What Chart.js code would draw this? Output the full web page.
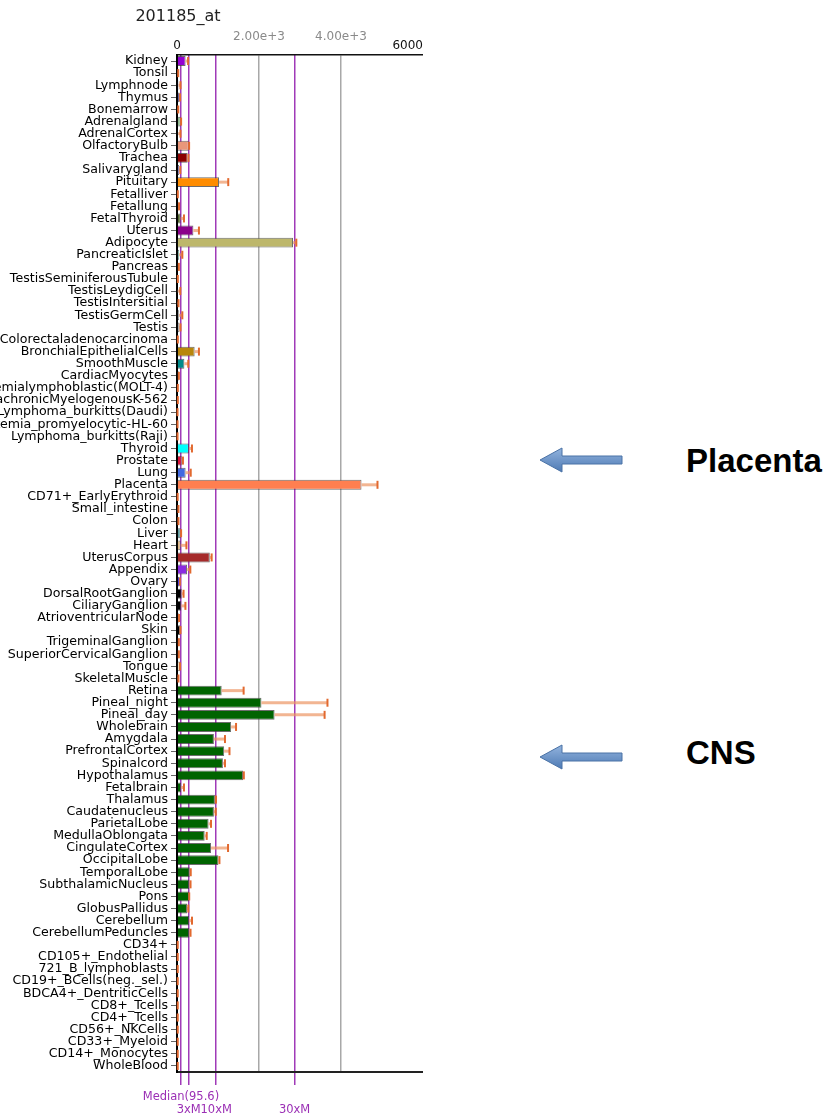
<!DOCTYPE html>
<html>
<head>
<meta charset="utf-8">
<script src="https://cdn.jsdelivr.net/npm/chart.js@4.4.1/dist/chart.umd.min.js"></script>
<style>
  body { margin: 0; background: #fff; width: 832px; height: 1113px; position: relative; overflow: hidden; font-family: "DejaVu Sans", sans-serif; }
  #wrap { position: absolute; left: 0; top: 0; width: 423px; height: 1113px; }
  #title { position: absolute; left: 0; width: 356px; top: 6px; text-align: center; font-size: 16px; color: #222; }
  .note { position: absolute; left: 686px; font-family: "Liberation Sans", Arial, sans-serif; font-weight: bold; font-size: 33px; line-height: 1; color: #000; }
  .arrow { position: absolute; left: 538px; width: 86px; height: 26px; }
</style>
</head>
<body>
<div id="wrap"><canvas id="chart" width="423" height="1113"></canvas></div>
<div id="title">201185_at</div>

<svg class="arrow" style="top:447px" viewBox="0 0 86 26">
  <defs>
    <linearGradient id="ag" x1="0" y1="0" x2="0" y2="1">
      <stop offset="0" stop-color="#93B4DE"/>
      <stop offset="1" stop-color="#4E7AB4"/>
    </linearGradient>
  </defs>
  <polygon points="2,13 24,1 24,9 84,9 84,17 24,17 24,25" fill="url(#ag)" stroke="#4A72A6" stroke-width="1"/>
</svg>
<div class="note" style="top:444px">Placenta</div>

<svg class="arrow" style="top:744px" viewBox="0 0 86 26">
  <polygon points="2,13 24,1 24,9 84,9 84,17 24,17 24,25" fill="url(#ag)" stroke="#4A72A6" stroke-width="1"/>
</svg>
<div class="note" style="top:736px">CNS</div>

<script>
// tissues, top to bottom
const tissues = ['Kidney','Tonsil','Lymphnode','Thymus','Bonemarrow','Adrenalgland','AdrenalCortex','OlfactoryBulb','Trachea','Salivarygland',
  'Pituitary','Fetalliver','Fetallung','FetalThyroid','Uterus','Adipocyte','PancreaticIslet','Pancreas','TestisSeminiferousTubule','TestisLeydigCell',
  'TestisIntersitial','TestisGermCell','Testis','Colorectaladenocarcinoma','BronchialEpithelialCells','SmoothMuscle','CardiacMyocytes',
  'Leukemialymphoblastic(MOLT-4)','LeukemiachronicMyelogenousK-562','Lymphoma_burkitts(Daudi)','Leukemia_promyelocytic-HL-60','Lymphoma_burkitts(Raji)',
  'Thyroid','Prostate','Lung','Placenta','CD71+_EarlyErythroid','Small_intestine','Colon','Liver','Heart','UterusCorpus','Appendix','Ovary',
  'DorsalRootGanglion','CiliaryGanglion','AtrioventricularNode','Skin','TrigeminalGanglion','SuperiorCervicalGanglion','Tongue','SkeletalMuscle',
  'Retina','Pineal_night','Pineal_day','Wholebrain','Amygdala','PrefrontalCortex','Spinalcord','Hypothalamus','Fetalbrain','Thalamus',
  'Caudatenucleus','ParietalLobe','MedullaOblongata','CingulateCortex','OccipitalLobe','TemporalLobe','SubthalamicNucleus','Pons',
  'GlobusPallidus','Cerebellum','CerebellumPeduncles','CD34+','CD105+_Endothelial','721_B_lymphoblasts','CD19+_BCells(neg._sel.)',
  'BDCA4+_DentriticCells','CD8+_Tcells','CD4+_Tcells','CD56+_NKCells','CD33+_Myeloid','CD14+_Monocytes','WholeBlood'];

const values = [210, 20, 35, 65, 15, 90, 25, 285, 260, 50,
  1025, 10, 35, 90, 400, 2830, 50, 25, 10, 15,
  12, 50, 60, 10, 430, 180, 40,
  10, 10, 8, 8, 8,
  290, 115, 210, 4500, 8, 20, 20, 90, 90, 800, 245, 65,
  115, 105, 40, 80, 30, 30, 70, 15,
  1090, 2060, 2380, 1320, 900, 1150, 1120, 1610, 100, 925,
  900, 770, 675, 830, 1010, 310, 300, 293,
  245, 293, 300, 8, 8, 8, 8,
  8, 8, 8, 8, 8, 8, 8];

const errors = [60, 10, 50, 10, 15, 10, 60, 10, 20, 30,
  225, 10, 15, 80, 135, 80, 80, 20, 10, 65,
  25, 80, 25, 10, 105, 95, 5,
  10, 10, 5, 5, 5,
  75, 30, 125, 390, 8, 15, 15, 10, 140, 45, 80, 5,
  45, 100, 10, 5, 15, 15, 5, 20,
  535, 1610, 1220, 120, 270, 130, 50, 20, 70, 25,
  45, 60, 50, 415, 25, 25, 30, 5,
  30, 73, 30, 10, 10, 10, 10,
  10, 10, 10, 10, 10, 10, 10];

const barColors = ['#9400D3','#CD853F','#6A5ACD','#483D8B','#CD853F','#8FBC8F','#8FBC8F','#E9967A','#8B0000','#6A5ACD',
  '#FF8C00','#D2691E','#A0522D','#556B2F','#8B008B','#BDB76B','#66CDAA','#2E8B57','#A9A9A9','#A9A9A9',
  '#A9A9A9','#A9A9A9','#A9A9A9','#CD853F','#B8860B','#008B8B','#2F4F4F',
  '#D2691E','#D2691E','#D2691E','#D2691E','#D2691E',
  '#00FFFF','#DC143C','#4169E1','#FF7F50','#CD853F','#6B8E23','#6B8E23','#5F9EA0','#DEB887','#A52A2A','#8A2BE2','#0000FF',
  '#000000','#000000','#8B4513','#000000','#8B4513','#8B4513','#F5DEB3','#CD853F',
  '#006400','#006400','#006400','#006400','#006400','#006400','#006400','#006400','#006400','#006400',
  '#006400','#006400','#006400','#006400','#006400','#006400','#006400','#006400',
  '#006400','#006400','#006400','#CD853F','#CD853F','#CD853F','#CD853F',
  '#CD853F','#CD853F','#CD853F','#CD853F','#CD853F','#CD853F','#CD853F'];

// top axis labels
const topTickValues = [0, 2000, 4000, 6000];
const topTickLabels = ['0', '2.00e+3', '4.00e+3', '6000'];

// median reference lines (bottom)
const medianLines = [95.6, 286.8, 956, 2868];
const medianLabels = ['Median(95.6)', '3xM', '10xM', '30xM'];

const errorBars = {
  id: 'errorBars',
  afterDatasetsDraw(chart) {
    const ctx = chart.ctx;
    const xs = chart.scales.x;
    const meta = chart.getDatasetMeta(0);
    ctx.save();
    meta.data.forEach((bar, i) => {
      const x0 = xs.getPixelForValue(values[i]);
      const x1 = xs.getPixelForValue(values[i] + errors[i]);
      ctx.strokeStyle = 'rgba(236,150,100,0.7)';
      ctx.lineWidth = 3;
      ctx.beginPath();
      ctx.moveTo(x0, bar.y);
      ctx.lineTo(x1, bar.y);
      ctx.stroke();
      ctx.strokeStyle = '#E2692F';
      ctx.lineWidth = 2;
      ctx.beginPath();
      ctx.moveTo(x1, bar.y - 4);
      ctx.lineTo(x1, bar.y + 4);
      ctx.stroke();
    });
    ctx.restore();
  }
};

// no auto padding from the edge labels
function noPad(s) {
  s.paddingLeft = 0; s.paddingRight = 0; s.paddingTop = 0; s.paddingBottom = 0;
}

new Chart(document.getElementById('chart'), {
  type: 'bar',
  data: {
    labels: tissues,
    datasets: [{
      data: values,
      backgroundColor: barColors,
      borderColor: 'rgba(60,60,60,0.75)',
      borderWidth: 1,
      barPercentage: 0.82,
      categoryPercentage: 1,
      xAxisID: 'x',
      yAxisID: 'y'
    }]
  },
  options: {
    indexAxis: 'y',
    responsive: false,
    animation: false,
    events: [],
    layout: { padding: 0 },
    plugins: { legend: { display: false }, tooltip: { enabled: false } },
    scales: {
      x: {
        type: 'linear', position: 'top', min: 0, max: 6000,
        ticks: {
          stepSize: 2000,
          padding: 5,
          font: { family: 'DejaVu Sans', size: 12, lineHeight: 0.75 },
          color: (c) => (c.tick && (c.tick.value === 2000 || c.tick.value === 4000)) ? '#8A8A8A' : '#111',
          callback: function (v) {
            const i = topTickValues.indexOf(v);
            if (i < 0) return '';
            if (v === 2000 || v === 4000) return [topTickLabels[i], ''];
            if (v === 6000) return topTickLabels[i] + '\u2007\u2007\u2007\u2007';
            return topTickLabels[i];
          }
        },
        grid: {
          drawTicks: false,
          lineWidth: 1.5,
          color: (c) => (c.tick && (c.tick.value === 2000 || c.tick.value === 4000)) ? '#A8A8A8' : 'rgba(0,0,0,0)'
        },
        border: { display: true, color: '#111', width: 1.5 },
        afterFit(s) { s.height = 55; noPad(s); }
      },
      x2: {
        type: 'linear', position: 'bottom', min: 0, max: 6000, z: 1,
        afterBuildTicks(s) { s.ticks = medianLines.map(v => ({ value: v })); },
        ticks: {
          autoSkip: false, maxRotation: 0, minRotation: 0,
          padding: 6,
          color: '#9B30B5',
          font: { family: 'DejaVu Sans', size: 11.5, lineHeight: '13px' },
          callback: function (v) {
            const i = medianLines.indexOf(v);
            if (i < 0) return '';
            return i === 0 ? medianLabels[i] : ['', medianLabels[i]];
          }
        },
        grid: { color: '#A03AB8', lineWidth: 1.5, tickLength: 13, drawOnChartArea: true },
        border: { display: true, color: '#222', width: 2 },
        afterFit(s) { s.height = 41; noPad(s); }
      },
      y: {
        type: 'category', position: 'left', offset: true,
        grid: { offset: false, drawOnChartArea: false, tickLength: 6, color: '#666' },
        border: { display: true, color: '#000', width: 2 },
        ticks: { autoSkip: false, padding: 3, color: '#000', font: { family: 'DejaVu Sans', size: 12.6 } },
        afterFit(s) { s.width = 177; noPad(s); }
      }
    }
  },
  plugins: [errorBars]
});
</script>
</body>
</html>
